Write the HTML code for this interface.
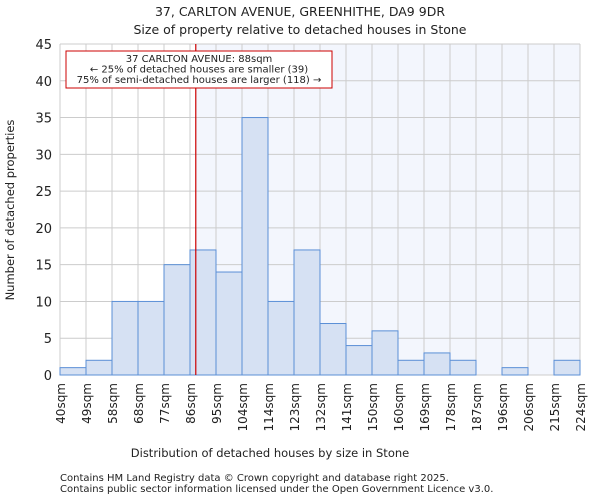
<!DOCTYPE html>
<html><head><meta charset="utf-8"><style>
body{margin:0;background:#fff;font-family:"DejaVu Sans","Liberation Sans",sans-serif;}
svg text{font-family:"DejaVu Sans","Liberation Sans",sans-serif;fill:#222;}
</style></head><body>
<svg id="c" width="600" height="500" xmlns="http://www.w3.org/2000/svg">
<text x="300" y="16" font-size="12.5" text-anchor="middle">37, CARLTON AVENUE, GREENHITHE, DA9 9DR</text>
<text x="300" y="34" font-size="12.5" text-anchor="middle">Size of property relative to detached houses in Stone</text>
<g id="plot"></g>
<text x="270" y="457" font-size="11.5" text-anchor="middle">Distribution of detached houses by size in Stone</text>
<text transform="translate(14,210) rotate(-90)" font-size="11.5" text-anchor="middle">Number of detached properties</text>
<text x="60" y="481" font-size="10">Contains HM Land Registry data © Crown copyright and database right 2025.</text>
<text x="60" y="492" font-size="10">Contains public sector information licensed under the Open Government Licence v3.0.</text>
</svg>
<script>
const categories=["40sqm","49sqm","58sqm","68sqm","77sqm","86sqm","95sqm","104sqm","114sqm","123sqm","132sqm","141sqm","150sqm","160sqm","169sqm","178sqm","187sqm","196sqm","206sqm","215sqm","224sqm"];
const edges=[40,49,58,68,77,86,95,104,114,123,132,141,150,160,169,178,187,196,206,215,224];
const counts=[1,2,10,10,15,17,14,35,10,17,7,4,6,2,3,2,0,1,0,2];
const yTicks=[0,5,10,15,20,25,30,35,40,45];
const marker=88;
const L=60,R=580,T=44,B=375,yMax=45,n=counts.length,bw=(R-L)/n;
const ys=v=>B-(v/yMax)*(B-T);
const xi=i=>L+i*bw;
function xv(v){for(let i=0;i<edges.length-1;i++){if(v<=edges[i+1])return xi(i)+(v-edges[i])/(edges[i+1]-edges[i])*bw;}return R;}
const NS="http://www.w3.org/2000/svg",g=document.getElementById('plot');
function mk(t,a){const e=document.createElementNS(NS,t);for(const k in a)e.setAttribute(k,a[k]);g.appendChild(e);return e;}
const mx=xv(marker);
let e=mk('rect',{x:mx,y:T,width:R-mx,height:B-T,fill:'#f3f6fd'});


yTicks.forEach(v=>{let l=mk('line',{x1:L,x2:R,y1:ys(v),y2:ys(v),stroke:'#ccc'});


let t=mk('text',{x:L-8,y:ys(v)+5,'font-size':13,'text-anchor':'end'});t.textContent=v;

});
for(let i=0;i<=n;i++){let l=mk('line',{x1:xi(i),x2:xi(i),y1:T,y2:B,stroke:'#ccc'});


let t=mk('text',{transform:`translate(${xi(i)+5},${B+8}) rotate(-90)`,'font-size':12,'text-anchor':'end'});t.textContent=categories[i];

}
counts.forEach((v,i)=>{if(v<=0)return;let r=mk('rect',{x:xi(i),y:ys(v),width:bw,height:B-ys(v),fill:'#d6e1f3',stroke:'#5b8fd6','stroke-width':1});

});
e=mk('line',{x1:mx,x2:mx,y1:T,y2:B,stroke:'#c00','stroke-width':1.2});


e=mk('rect',{x:66,y:51,width:266,height:37,fill:'#fff',stroke:'#c00'});


["37 CARLTON AVENUE: 88sqm","← 25% of detached houses are smaller (39)","75% of semi-detached houses are larger (118) →"].forEach((s,k)=>{let t=mk('text',{x:199,y:62+k*10.5,'font-size':10,'text-anchor':'middle'});t.textContent=s;

});
</script>
</body></html>
